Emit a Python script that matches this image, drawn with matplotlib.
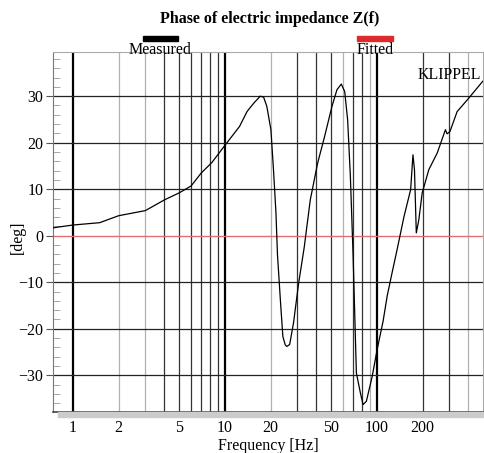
import matplotlib
matplotlib.use("Agg")
import matplotlib.pyplot as plt
from matplotlib.patches import Rectangle
from matplotlib.ticker import FixedLocator, MultipleLocator, NullFormatter

plt.rcParams['font.family'] = ['Liberation Serif', 'DejaVu Serif']

freq = [0.74, 1.0, 1.5, 2.0, 3.0, 4.0, 5.0, 6.0, 7.0, 8.2, 10.0, 12.5, 14.0, 15.5,
        17.1, 18.0, 18.9, 20.1, 20.9, 21.7, 22.2, 23.2, 24.1, 25.0, 25.6, 26.7,
        28.3, 30.6, 33.3, 36.5, 40.8, 45.4, 50.7, 54.7, 58.4, 61.5, 64.3, 67.0,
        69.8, 73.4, 78.0, 81.2, 85.4, 93.2, 100.5, 110, 117, 126, 136, 151, 167,
        173, 177, 182, 189, 199, 220, 250, 283, 290, 303, 338, 394, 498]
phase = [1.7, 2.3, 2.8, 4.3, 5.4, 7.7, 9.2, 10.7, 13.5, 15.7, 19.4, 23.5, 26.7, 28.5,
         30.0, 29.8, 27.8, 22.8, 14.2, 4.9, -4.0, -13.8, -21.7, -23.5, -23.8, -23.4,
         -18.8, -10.2, -2.5, 7.7, 15.6, 21.4, 27.8, 31.4, 32.6, 31.0, 24.9, 12.8,
         -4.0, -29.5, -33.8, -36.3, -35.6, -30.3, -24.5, -18.4, -13.0, -8.0, -3.0, 4.1, 9.9,
         17.4, 14.2, 0.6, 3.4, 9.2, 14.2, 17.8, 22.8, 21.9, 22.4, 26.7, 29.2, 33.2]

xtick_vals = [1, 2, 5, 10, 20, 50, 100, 200]
xtick_labels = ['1', '2', '5', '10', '20', '50', '100', '200']
ytick_vals = [-30, -20, -10, 0, 10, 20, 30]
decades = [1, 10, 100]
minor_lines = [2, 3, 4, 5, 6, 7, 8, 9, 20, 30, 40, 50, 60, 70, 80, 90, 200, 300, 400]
minor_gray = [2, 3, 20, 60, 90, 400]

fig = plt.figure(figsize=(4.84, 4.53), dpi=100)
ax = fig.add_axes([53/484, 1-412/453, 430/484, 360/453])
ax.set_xscale('log')
ax.set_xlim(0.74, 500)
ax.set_ylim(-37.9, 39.5)

# vertical grid
for v in decades:
    ax.axvline(v, color='black', lw=1.6, zorder=1)
for v in minor_lines:
    c = '#b0b0b0' if v in minor_gray else '#333333'
    ax.axvline(v, color=c, lw=0.9, zorder=1)
for v in ytick_vals:
    if v != 0:
        ax.axhline(v, color='#222222', lw=0.9, zorder=1)
ax.axhline(0, color='#e07070', lw=1.0, zorder=2)

ax.plot(freq, phase, color='black', lw=0.9, zorder=3)

ax.xaxis.set_major_locator(FixedLocator(xtick_vals))
ax.set_xticklabels(xtick_labels)
ax.xaxis.set_minor_formatter(NullFormatter())
ax.tick_params(axis='x', which='both', length=0, labelsize=11.5, pad=6)
ax.set_yticks(ytick_vals)
ax.yaxis.set_minor_locator(MultipleLocator(2))
ax.tick_params(axis='y', which='major', direction='out', length=5, labelsize=11.5, color='#555555', pad=2)
ax.tick_params(axis='y', which='minor', direction='in', length=5, color='#999999')

for s in ['top', 'right']:
    ax.spines[s].set_color('#aaaaaa')
ax.spines['left'].set_color('#777777')
ax.spines['bottom'].set_color('#444444')
ax.spines['bottom'].set_linewidth(1.2)

ax.set_xlabel('Frequency [Hz]', fontsize=11.5, labelpad=1)
ax.set_ylabel('[deg]', fontsize=11.5)
ax.yaxis.set_label_coords(-0.063, 0.486)

# shadow below bottom axis
fig.patches.append(Rectangle((58/484, 1-417/453), 426/484, 5/453,
                             transform=fig.transFigure, color='#cccccc', zorder=0))

fig.text(270/484, 1-19/453, 'Phase of electric impedance Z(f)', ha='center', va='center',
         fontsize=11.5, fontweight='bold')
fig.patches.append(Rectangle((143/484, 1-41/453), 35/484, 5/453,
                             transform=fig.transFigure, color='black'))
fig.text(160/484, 1-50/453, 'Measured', ha='center', va='center', fontsize=11.5)
fig.patches.append(Rectangle((357/484, 1-41/453), 36/484, 5/453,
                             transform=fig.transFigure, color='#dd2a2a'))
fig.text(375/484, 1-50/453, 'Fitted', ha='center', va='center', fontsize=11.5)
ax.text(0.995, 0.935, 'KLIPPEL', transform=ax.transAxes, ha='right', va='center', fontsize=11.5)

fig.savefig('out.png', dpi=100)
